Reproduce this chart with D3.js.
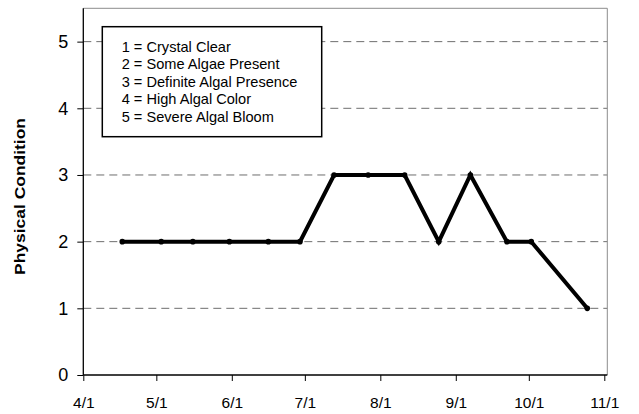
<!DOCTYPE html>
<html>
<head>
<meta charset="utf-8">
<script src="https://cdn.jsdelivr.net/npm/d3@7"></script>
<style>
  html, body { margin: 0; padding: 0; background: #fff; }
  svg { display: block; font-family: "Liberation Sans", Arial, sans-serif; }
</style>
</head>
<body>
<svg id="chart" width="639" height="414"></svg>
<script>
// ---- data ----
const dates = ["2005-04-17","2005-05-03","2005-05-16","2005-05-31","2005-06-16","2005-06-29",
               "2005-07-13","2005-07-27","2005-08-11","2005-08-25","2005-09-07","2005-09-22",
               "2005-10-02","2005-10-25"];
const condition = [2,2,2,2,2,2,3,3,3,2,3,2,2,1];
const xTickDates = ["2005-04-01","2005-05-01","2005-06-01","2005-07-01","2005-08-01",
                    "2005-09-01","2005-10-01","2005-11-01"];
const yTicks = [0,1,2,3,4,5];
const gridValues = [1,2,3,4,5];
const legendLines = ["1 = Crystal Clear","2 = Some Algae Present","3 = Definite Algal Presence",
                     "4 = High Algal Color","5 = Severe Algal Bloom"];
const yTitle = "Physical Condition";

// ---- setup ----
(function () {
const parse = d3.timeParse("%Y-%m-%d");
const data = dates.map((d, i) => ({ date: parse(d), value: condition[i] }));
const tickDates = xTickDates.map(parse);

const svg = d3.select("#chart");
const pLeft = 83.3, pRight = 604.3, plotRight = 607.3, pTop = 8.3, pBottom = 375;

const x = d3.scaleTime().domain([tickDates[0], tickDates[tickDates.length - 1]]).range([pLeft, pRight]);
const y = d3.scaleLinear().domain([0, 5.5]).range([pBottom, pTop]);

// gridlines
svg.append("g").selectAll("line").data(gridValues).join("line")
  .attr("x1", pLeft).attr("x2", plotRight)
  .attr("y1", d => y(d)).attr("y2", d => y(d))
  .attr("stroke", "#6e6e6e").attr("stroke-width", 1)
  .attr("stroke-dasharray", "8,5");

// top & right border (gray)
svg.append("path")
  .attr("d", `M${pLeft},${pTop}H${plotRight}V${pBottom}`)
  .attr("fill", "none").attr("stroke", "#8c8c8c").attr("stroke-width", 1);

// x axis
const xAxis = svg.append("g").attr("transform", `translate(0,${pBottom})`)
  .call(d3.axisBottom(x).tickValues(tickDates).tickFormat(d3.timeFormat("%-m/%-d"))
        .tickSize(6).tickPadding(16).tickSizeOuter(0));
xAxis.select(".domain").attr("stroke", "#000").attr("stroke-width", 1.3)
  .attr("d", `M${pLeft},0H${plotRight}`);
xAxis.selectAll(".tick line").attr("stroke", "#000").attr("stroke-width", 1);
xAxis.selectAll("text").attr("font-size", "15.5px").attr("fill", "#000")
  .attr("font-family", "'Liberation Sans', Arial, sans-serif");

// y axis
const yAxis = svg.append("g").attr("transform", `translate(${pLeft},0)`)
  .call(d3.axisLeft(y).tickValues(yTicks).tickFormat(d3.format("d"))
        .tickSize(6).tickPadding(9).tickSizeOuter(0));
yAxis.select(".domain").attr("stroke", "#000").attr("stroke-width", 1.3)
  .attr("d", `M0,${pTop}V${pBottom}`);
yAxis.selectAll(".tick line").attr("stroke", "#000").attr("stroke-width", 1);
yAxis.selectAll("text").attr("font-size", "18px").attr("fill", "#000")
  .attr("font-family", "'Liberation Sans', Arial, sans-serif");

// y title
svg.append("text")
  .attr("transform", `translate(25,196.5) rotate(-90)`)
  .attr("text-anchor", "middle")
  .attr("font-size", "14px").attr("font-weight", "bold")
  .attr("textLength", 157).attr("lengthAdjust", "spacingAndGlyphs")
  .text(yTitle);

// line
const line = d3.line().x(d => x(d.date)).y(d => y(d.value));
svg.append("path").datum(data)
  .attr("d", line)
  .attr("fill", "none").attr("stroke", "#000").attr("stroke-width", 4)
  .attr("stroke-linejoin", "miter");

svg.append("g").selectAll("circle").data(data).join("circle")
  .attr("cx", d => x(d.date)).attr("cy", d => y(d.value)).attr("r", 2.8)
  .attr("fill", "#000");

// legend
const lg = svg.append("g");
lg.append("rect").attr("x", 102.3).attr("y", 26.7).attr("width", 219.4).attr("height", 110)
  .attr("fill", "#fff").attr("stroke", "#000").attr("stroke-width", 1.5);
lg.selectAll("text").data(legendLines).join("text")
  .attr("x", 121.7).attr("y", (d, i) => 51.7 + i * 17.5)
  .attr("font-size", "14.6px").attr("fill", "#000")
  .text(d => d);
})();
</script>
</body>
</html>
